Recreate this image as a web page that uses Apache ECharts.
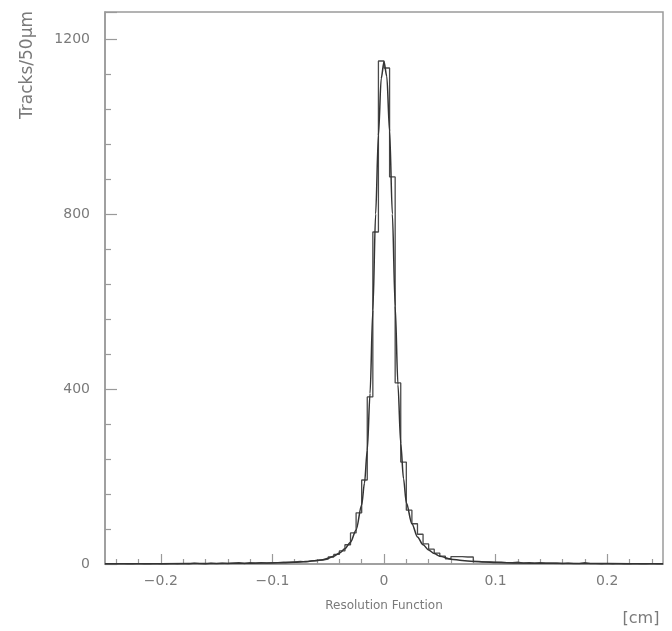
<!DOCTYPE html>
<html>
<head>
<meta charset="utf-8">
<script src="https://cdn.jsdelivr.net/npm/echarts@6/dist/echarts.min.js"></script>
<style>
html,body{margin:0;padding:0;background:#ffffff;}
#chart{width:672px;height:631px;}
</style>
</head>
<body>
<div id="chart"></div>
<script>
// Histogram: 100 bins of 0.005 cm (50 µm) from -0.25 to 0.25
const binStart = -0.25;
const binWidth = 0.005;
const histCounts = [
  0,0,1,0,0,1,0,0,1,0,
  0,1,0,1,0,2,1,0,2,1,
  2,1,2,3,1,3,2,3,2,3,
  3,4,4,5,6,5,7,8,9,11,
  16,22,30,44,71,117,192,382,759,1150,
  1134,885,414,233,123,92,68,46,34,25,
  18,12,17,17,16,16,6,5,5,4,
  4,3,3,4,2,3,2,3,2,2,
  2,1,2,1,1,3,1,1,0,1,
  0,1,0,0,1,0,0,1,0,0
];
// Fitted curve
const curveX = [-0.25,-0.2,-0.15,-0.12,-0.1,-0.09,-0.08,-0.07,-0.06,-0.055,-0.05,-0.045,-0.04,-0.035,-0.03,-0.025,-0.02,-0.0175,-0.015,-0.0125,-0.01,-0.0075,-0.005,-0.0025,0,0.0025,0.005,0.0075,0.01,0.0125,0.015,0.0175,0.02,0.025,0.03,0.035,0.04,0.045,0.05,0.06,0.07,0.08,0.09,0.1,0.12,0.15,0.2,0.25];
const curveY = [0.5,0.8,1.2,1.8,2.5,3,4,5.5,8,10,13,18,25,35,50,78,135,185,260,390,580,800,980,1110,1148,1115,990,800,590,410,275,195,140,92,62,44,32,24,18,11,8,6,4.5,3.5,2.5,1.5,1,0.5];
// Axis ticks and labels
const xMajorTicks = [-0.2,-0.1,0,0.1,0.2];
const xMinorTicks = [-0.24,-0.22,-0.18,-0.16,-0.14,-0.12,-0.08,-0.06,-0.04,-0.02,0.02,0.04,0.06,0.08,0.12,0.14,0.16,0.18,0.22,0.24];
const yMinorTicks = [80,160,240,320,480,560,640,720,880,960,1040,1120];

const histData = histCounts.map((v,i)=>[+(binStart + i*binWidth).toFixed(4), v]);
histData.push([0.25, histCounts[histCounts.length-1]]);
const curveData = curveX.map((x,i)=>[x, curveY[i]]);

const textColor = '#7a7a7a';
const frameColor = '#9a9a9a';
const lineColor = '#4a4a4a';
const font = 'DejaVu Sans';

const chart = echarts.init(document.getElementById('chart'), null, {renderer:'canvas'});
chart.setOption({
  backgroundColor:'#ffffff',
  animation:false,
  grid:{left:105,right:9,top:12,bottom:67,show:true,borderColor:frameColor,borderWidth:1.5,backgroundColor:'transparent'},
  xAxis:[{
    type:'value',min:-0.25,max:0.25,position:'bottom',
    axisLine:{show:true,onZero:false,lineStyle:{color:frameColor,width:1.5}},
    axisTick:{show:true,inside:true,length:10,customValues:xMajorTicks,lineStyle:{color:frameColor,width:1.2}},
    axisLabel:{show:true,customValues:xMajorTicks,margin:10,color:textColor,fontFamily:font,fontSize:14,
      formatter:v=>(Math.abs(v)<1e-9?'0':(v<0?'\u2212'+(-v).toFixed(1):v.toFixed(1)))},
    splitLine:{show:false}
  },{
    type:'value',min:-0.25,max:0.25,position:'bottom',
    axisLine:{show:false,onZero:false},
    axisTick:{show:true,inside:true,length:5,customValues:xMinorTicks,lineStyle:{color:frameColor,width:1.2}},
    axisLabel:{show:false},
    splitLine:{show:false}
  }],
  yAxis:[{
    type:'value',min:0,max:1262,interval:400,position:'left',
    axisLine:{show:true,onZero:false,lineStyle:{color:frameColor,width:1.5}},
    axisTick:{show:true,inside:true,length:12,lineStyle:{color:frameColor,width:1.2}},
    axisLabel:{show:true,margin:15,color:textColor,fontFamily:font,fontSize:14,
      formatter:v=>(v%400===0?String(v):'')},
    splitLine:{show:false}
  },{
    type:'value',min:0,max:1262,position:'left',offset:0,
    axisLine:{show:false,onZero:false},
    axisTick:{show:true,inside:true,length:6,customValues:yMinorTicks,lineStyle:{color:frameColor,width:1.2}},
    axisLabel:{show:false},
    splitLine:{show:false}
  }],
  series:[{
    type:'line',xAxisIndex:0,yAxisIndex:0,step:'end',data:histData,
    symbol:'none',lineStyle:{color:lineColor,width:1.3},z:3
  },{
    type:'line',xAxisIndex:0,yAxisIndex:0,data:curveData,smooth:0.3,smoothMonotone:'x',
    symbol:'none',lineStyle:{color:'#333333',width:1.5},z:4
  }],
  graphic:[
    {type:'text',x:28,y:65,rotation:Math.PI/2,
      style:{text:'Tracks/50\u00B5m',fill:textColor,font:'17px '+font,align:'center',verticalAlign:'middle'}},
    {type:'text',x:384,y:606,
      style:{text:'Resolution Function',fill:textColor,font:'12px '+font,align:'center',verticalAlign:'middle'}},
    {type:'text',x:641,y:619,
      style:{text:'[cm]',fill:textColor,font:'16px '+font,align:'center',verticalAlign:'middle'}}
  ]
});
</script>
</body>
</html>
